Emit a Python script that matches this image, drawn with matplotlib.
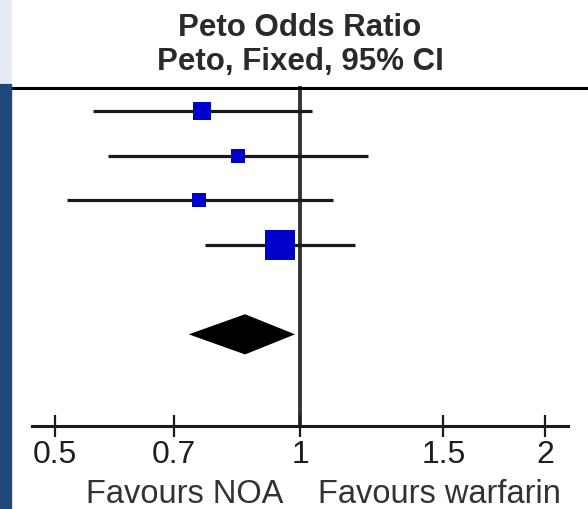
import matplotlib
matplotlib.use("Agg")
import matplotlib.pyplot as plt
from matplotlib.patches import Rectangle
from matplotlib.ticker import FixedLocator, FixedFormatter, NullLocator
import numpy as np

# Peto odds ratios per study (point estimate and 95% CI) and weights (%)
or_est = [0.758, 0.839, 0.751, 0.945]
ci_low = [0.557, 0.581, 0.517, 0.764]
ci_high = [1.035, 1.212, 1.098, 1.168]
weights = [18.3, 12.4, 12.4, 56.9]

# Pooled fixed-effect estimate
pooled = (0.856, 0.730, 0.986)

tick_vals = [0.5, 0.7, 1, 1.5, 2]
tick_labels = ["0.5", "0.7", "1", "1.5", "2"]

title_lines = ["Peto Odds Ratio", "Peto, Fixed, 95% CI"]
favours = ("Favours NOA", "Favours warfarin")

plt.rcParams["font.family"] = ["Liberation Sans", "DejaVu Sans"]
txt_col = "#1e1e1e"

fig = plt.figure(figsize=(5.88, 5.10), dpi=100)

# side strip on the left edge
fig.patches.append(Rectangle((0, 1 - 83 / 510), 11 / 588, 83 / 510,
                             transform=fig.transFigure, color="#e6ebf5", zorder=0))
fig.patches.append(Rectangle((0, 0), 11 / 588, 1 - 85 / 510,
                             transform=fig.transFigure, color="#1f497d", zorder=0))

ax = fig.add_axes([11 / 588, 0, 577 / 588, 1])
ax.set_xscale("log")
ax.set_xlim(0.4415, 2.2585)
ax.set_ylim(8.91, -2.507)
ax.patch.set_alpha(0)

rows = np.arange(len(or_est))
axis_y = 7.05
top_y = -0.515

# horizontal rule under the heading
ax.plot([0.4415, 2.2585], [top_y, top_y], color="black", lw=2.2, clip_on=False)

# line of no effect
ax.plot([1, 1], [top_y, axis_y], color="#333333", lw=2.8, zorder=1)

# study CIs and weighted squares
for i in rows:
    ax.plot([ci_low[i], ci_high[i]], [i, i], color="#1a1a1a", lw=2.3, zorder=2,
            solid_capstyle="butt")
    side_px = 30 * np.sqrt(weights[i] / max(weights))
    ax.plot(or_est[i], i, marker="s", color="#0000c8", markersize=side_px / 1.389,
            markeredgewidth=0, zorder=3)

# pooled diamond
d_row = 5
h = 0.45
ax.fill([pooled[1], pooled[0], pooled[2], pooled[0]],
        [d_row, d_row - h, d_row, d_row + h], color="black", lw=0, zorder=3)

# axis with crossing ticks
for s in ["top", "right", "left"]:
    ax.spines[s].set_visible(False)
ax.spines["bottom"].set_position(("data", axis_y))
ax.spines["bottom"].set_bounds(0.4685, 2.134)
ax.spines["bottom"].set_linewidth(2.2)
ax.spines["bottom"].set_color("#1a1a1a")
ax.xaxis.set_major_locator(FixedLocator(tick_vals))
ax.xaxis.set_major_formatter(FixedFormatter(tick_labels))
ax.xaxis.set_minor_locator(NullLocator())
ax.tick_params(axis="x", direction="inout", length=16, width=1.6, color="#1a1a1a",
               labelsize=23, labelcolor=txt_col, pad=1.5)
ax.set_yticks([])

# headings
ax.text(1, -1.70, title_lines[0], ha="center", va="baseline", fontsize=22.5,
        fontweight="bold", color="#2a2a2a")
ax.text(1, -0.93, title_lines[1], ha="center", va="baseline", fontsize=22.5,
        fontweight="bold", color="#2a2a2a")

# favours labels
fav_y = (503 - 112) / 44.67
ax.text(0.953, fav_y, favours[0], ha="right", va="baseline", fontsize=23.5,
        color="#333333")
ax.text(1.052, fav_y, favours[1], ha="left", va="baseline", fontsize=23.5,
        color="#333333")

fig.savefig("out.png", dpi=100)
